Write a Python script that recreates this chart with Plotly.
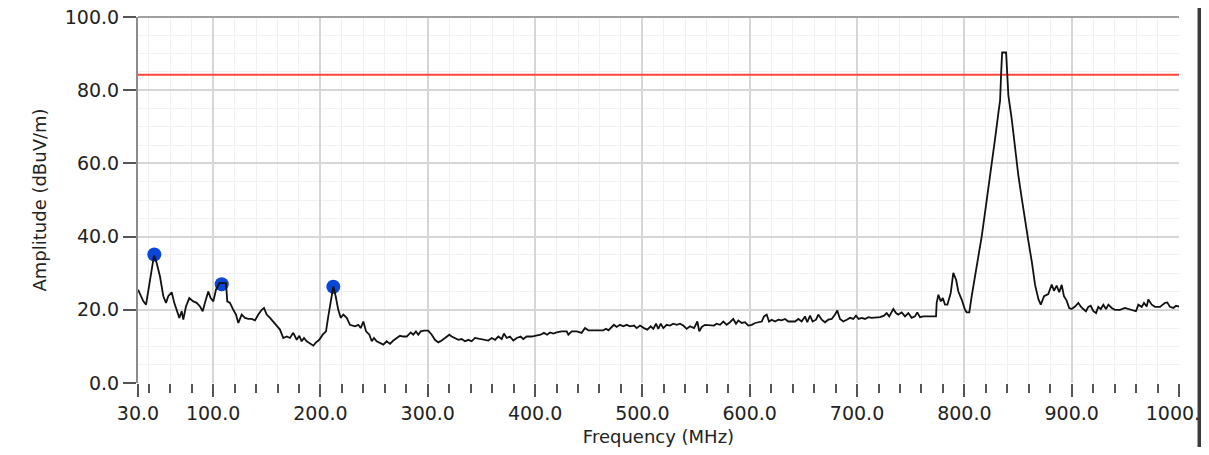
import plotly.graph_objects as go

# ---- data ----
freq_mhz = [
    30.0, 35.0, 37.5, 39.6, 42.8, 44.9, 47.4, 50.5, 53.6, 56.1, 58.2, 61.4, 63.8, 66.1, 68.5, 70.7,
    72.2, 74.7, 77.8, 81.5, 84.7, 87.8, 90.3, 92.4, 95.5, 97.7, 100.2, 102.7, 105.8, 108.9, 112.0,
    113.2, 115.7, 118.8, 121.3, 123.5, 126.6, 129.7, 132.8, 135.9, 139.0, 142.1, 145.3, 147.4,
    149.9, 153.0, 156.1, 159.2, 162.3, 165.4, 168.6, 171.6, 174.7, 177.9, 180.3, 182.5, 184.7,
    187.2, 190.3, 193.4, 195.9, 198.9, 202.1, 205.2, 207.3, 208.9, 211.0, 212.0, 214.2, 216.6,
    218.9, 221.3, 224.5,
    227.5, 232.2, 235.3, 237.5, 240.0, 242.5, 245.6, 247.8, 249.9, 252.4, 255.5, 258.6, 261.7,
    264.8, 267.9, 271.0, 274.1, 277.2, 280.4, 284.1, 286.5, 289.0, 291.2, 293.4, 296.5, 300.5,
    303.7, 306.7, 309.8, 313.0, 316.1, 320.1, 322.3, 325.4, 328.5, 331.6, 334.7, 337.8, 340.9,
    344.0, 348.7, 353.3, 356.4, 359.6, 362.7, 365.7, 368.9, 371.0, 373.5, 376.6, 379.7, 382.9,
    386.6, 389.0, 392.2, 396.8, 401.5, 405.1, 408.3, 411.3, 413.9, 417.0, 420.1, 424.8, 429.5,
    431.0, 434.1, 438.8,
    443.4, 446.5, 449.6, 455.8, 463.6, 466.1, 468.3, 471.4, 473.5, 476.0, 479.1, 482.2, 485.4,
    488.4, 492.2, 494.7, 497.8, 501.5, 504.6, 507.7, 510.2, 512.7, 514.8, 517.1, 519.5, 522.6,
    525.7, 528.8, 532.0, 535.0, 538.1, 541.3, 544.3, 548.1, 551.2, 553.0, 555.3, 558.4, 563.0,
    566.7, 569.2, 572.3, 575.4, 578.5, 581.6, 584.7, 587.2, 589.4, 592.5, 595.6, 598.7, 601.9,
    605.0, 608.0, 611.2, 613.3, 615.8, 618.0, 620.5, 623.6, 626.6, 629.8, 632.9, 636.0,
    642.2, 645.3, 648.4, 651.5, 653.6, 656.2, 658.6, 661.8, 663.9, 667.1, 670.1, 673.2, 676.4,
    679.5, 681.6, 684.1, 687.2, 690.4, 693.4, 696.5, 699.0, 701.5, 704.3, 707.4, 710.5, 713.6,
    717.6, 721.4, 725.1, 727.6, 730.0, 733.8, 736.3, 738.4, 741.6, 744.7, 747.8, 750.9, 754.0,
    756.1, 758.7, 761.7, 768.0, 773.6,
    774.2, 775.8, 778.0, 779.9, 782.0, 784.2, 787.3, 789.7, 792.3, 794.4, 797.5, 800.6, 802.2,
    804.6, 806.8, 809.9, 813.0, 816.2, 819.3, 822.4, 825.6, 828.6, 831.8, 833.3, 834.3, 835.2,
    838.9, 840.0, 841.0, 844.1, 847.2, 850.3, 853.5, 856.6, 859.7, 862.8, 865.9, 869.0, 871.2,
    874.3, 878.2, 881.4, 883.5, 886.0, 888.4, 890.7, 892.8, 895.3, 897.7,
    900.0, 903.1, 906.2, 908.4, 910.8, 913.3, 915.5, 917.7, 920.2, 922.7, 924.8, 927.1, 929.5,
    932.0, 934.2, 937.3, 940.4, 945.0, 949.7, 952.8, 955.9, 959.9, 962.1, 965.3, 967.4, 969.9,
    971.4, 974.6, 977.7, 982.3, 987.0, 989.1, 991.6, 994.7, 997.2, 1000.0,
]

amplitude_dbuv = [
    25.5, 22.3, 21.4, 25.5, 31.9, 34.8, 32.8, 29.1, 23.7, 21.9, 23.7, 24.8, 21.9, 19.6, 17.8, 19.6,
    17.3, 20.9, 23.2, 22.3, 21.9, 20.9, 19.6, 21.9, 25.0, 23.2, 22.3, 25.5, 27.3, 27.3, 27.3,
    22.3, 21.9, 20.0, 18.7, 16.4, 18.7, 17.8, 17.5, 17.5, 17.1, 18.7, 20.0, 20.5,
    18.7, 17.8, 16.8, 15.5, 14.6, 12.3, 12.7, 12.3, 13.7, 11.8, 12.9, 11.4, 12.3,
    11.4, 10.9, 10.2, 11.1, 11.8, 13.2, 14.1, 18.2, 20.9, 25.5, 26.4, 23.7, 20.0,
    17.8, 18.7, 17.8,
    15.9, 15.5, 15.9, 15.0, 16.8, 14.1, 13.2, 11.4, 12.3, 11.4, 10.9, 10.5, 11.4,
    10.7, 11.6, 12.3, 12.9, 12.7, 12.7, 13.8, 13.2, 14.1, 13.2, 14.1, 14.3, 14.3,
    13.2, 11.8, 11.1, 11.6, 12.3, 13.2, 12.7, 12.3, 11.8, 12.0, 11.4, 11.8, 11.4,
    12.3, 12.0, 11.8, 11.6, 12.3, 11.8, 12.7, 12.0, 13.5, 12.3, 12.7, 11.6, 12.3,
    12.7, 12.0, 12.7, 12.7, 12.9, 13.2, 13.7, 13.2, 13.8, 13.5, 13.8, 14.1, 14.1,
    13.2, 14.1, 14.1,
    13.7, 15.0, 14.4, 14.4, 14.4, 14.8, 14.4, 15.3, 15.9, 15.3, 15.9, 15.5, 15.9,
    15.5, 15.7, 15.0, 15.7, 15.0, 14.6, 15.5, 14.8, 16.2, 14.8, 16.2, 15.0, 15.9,
    15.7, 16.2, 15.9, 16.2, 15.7, 14.8, 15.5, 15.0, 16.8, 14.1, 15.3, 15.9, 15.9,
    15.7, 16.2, 15.9, 16.8, 15.9, 16.6, 17.5, 16.2, 17.1, 16.4, 16.6, 15.7, 15.9,
    16.4, 16.6, 16.8, 18.2, 18.7, 16.8, 17.3, 16.8, 17.3, 17.1, 17.5, 16.8,
    16.8, 17.5, 16.8, 18.2, 16.6, 18.4, 16.8, 17.3, 18.7, 17.3, 16.6, 17.3, 17.5,
    18.7, 19.8, 17.5, 16.8, 17.3, 17.8, 17.5, 18.4, 17.5, 17.8, 17.5, 18.0, 17.8,
    18.0, 18.0, 18.4, 19.1, 18.2, 20.2, 19.1, 18.7, 19.3, 18.2, 19.1, 17.8, 18.2,
    19.3, 18.0, 18.2, 18.2, 18.2,
    21.9, 24.1, 22.3, 23.2, 21.4, 21.4, 24.6, 30.1, 28.2, 25.0, 22.8, 20.0, 19.3,
    19.3, 23.7, 29.1, 34.6, 40.1, 46.7, 53.1, 59.4, 66.7, 74.0, 77.2, 84.8, 90.3,
    90.3, 84.8, 78.6, 72.2, 64.0, 56.7, 50.4, 44.1, 38.7, 33.2, 26.8, 22.9, 21.4,
    23.7, 24.3, 26.9, 25.2, 26.6, 24.8, 26.8, 23.7, 22.5, 20.5,
    20.2, 20.9, 21.9, 20.9, 20.2, 19.6, 20.8, 21.1, 19.6, 19.1, 20.8, 20.2, 21.4,
    20.2, 21.4, 20.5, 20.0, 20.0, 20.5, 20.2, 20.0, 19.6, 21.4, 20.8, 21.9, 20.9,
    22.8, 21.4, 20.8, 20.8, 21.9, 22.0, 20.8, 20.5, 21.1, 20.9,
]

peak_freq = [45.2, 108.0, 212.0]
peak_amp = [35.1, 27.0, 26.3]

limit_db = 84.2

x_ticks = [30, 100, 200, 300, 400, 500, 600, 700, 800, 900, 1000]
y_ticks = [0, 20, 40, 60, 80, 100]
x_minor = [f for f in range(40, 1000, 20) if f % 100 != 0]

FONT = "DejaVu Sans"

fig = go.Figure()

fig.add_trace(go.Scatter(
    x=[x_ticks[0], x_ticks[-1]], y=[limit_db, limit_db], mode="lines",
    line=dict(color="#ff4438", width=2), hoverinfo="skip", showlegend=False))

fig.add_trace(go.Scatter(
    x=peak_freq, y=peak_amp, mode="markers",
    marker=dict(color="#0a46d8", size=14, line=dict(width=0)), showlegend=False))

fig.add_trace(go.Scatter(
    x=freq_mhz, y=amplitude_dbuv, mode="lines",
    line=dict(color="#111111", width=1.8), showlegend=False))

fig.update_layout(
    width=1193, height=439,
    margin=dict(l=130, r=22, t=9, b=64, autoexpand=False),
    paper_bgcolor="white", plot_bgcolor="white",
    font=dict(family=FONT, size=18, color="#222222"),
    showlegend=False,
    shapes=[
        # hide the grid lines on the right and bottom edges
        dict(type="line", xref="paper", yref="paper", x0=1, x1=1, y0=0, y1=1,
             line=dict(color="white", width=3), layer="between"),
        dict(type="line", xref="paper", yref="paper", x0=0, x1=1, y0=0, y1=0,
             line=dict(color="white", width=3), layer="between"),
        # top border
        dict(type="line", xref="paper", yref="paper", x0=0, x1=1, y0=1, y1=1,
             line=dict(color="#a0a0a0", width=2), layer="above"),
        # window frame (right)
        dict(type="rect", xref="paper", yref="paper", x0=1.0178, x1=1.0215,
             y0=-0.2, y1=1.03, line=dict(width=0), fillcolor="#3a3a3a",
             layer="above"),
    ],
)

fig.update_xaxes(
    range=[30, 1000], automargin=False, ticklabeloverflow="allow",
    tickmode="array", tickvals=x_ticks, ticktext=[f"{v:.1f}" for v in x_ticks],
    ticks="outside", ticklen=13, tickwidth=2, tickcolor="#555555",
    showline=False, zeroline=False,
    showgrid=True, gridcolor="#d6d6d6", gridwidth=2,
    minor=dict(tickmode="array", tickvals=x_minor, ticks="outside", ticklen=9,
               tickwidth=2, tickcolor="#555555", showgrid=True,
               gridcolor="#f1f1f1", gridwidth=1),
    title=dict(text="Frequency (MHz)", standoff=14, font=dict(size=18)),
    tickfont=dict(size=19),
)

fig.update_yaxes(
    range=[0, 100], automargin=False, ticklabeloverflow="allow",
    tickmode="array", tickvals=y_ticks, ticktext=[f"{v:.1f}" for v in y_ticks],
    ticks="outside", ticklen=13, tickwidth=2, tickcolor="#555555",
    showline=True, linecolor="#8c8c8c", linewidth=2, zeroline=False,
    showgrid=True, gridcolor="#d6d6d6", gridwidth=2,
    minor=dict(dtick=5, tick0=0, showgrid=True, gridcolor="#f1f1f1", gridwidth=1,
               ticks=""),
    title=dict(text="Amplitude (dBuV/m)", standoff=13, font=dict(size=18)),
    tickfont=dict(size=19),
)

fig.write_html("out.html")
